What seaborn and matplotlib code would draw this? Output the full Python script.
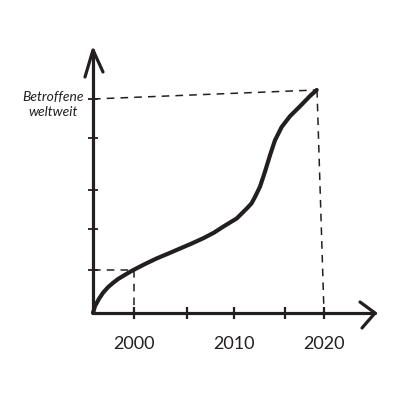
import matplotlib
matplotlib.use("Agg")
import matplotlib.pyplot as plt
import pandas as pd
import seaborn as sns

# curve (year, affected people in tick units)
years = [1995.9, 1996.1, 1996.5, 1996.9, 1997.4, 1997.9, 1998.4, 1998.9, 1999.4,
         1999.93, 2001.1, 2002.27, 2003.4, 2004.6, 2005.8, 2006.93, 2008.0,
         2008.93, 2010.27, 2011.27, 2011.75, 2012.1, 2012.6, 2013.1, 2013.6,
         2014.1, 2014.77, 2015.6, 2016.6, 2017.6, 2018.27]
affected = [0.0, 0.16, 0.33, 0.47, 0.60, 0.70, 0.79, 0.86, 0.93,
            1.0, 1.14, 1.27, 1.38, 1.50, 1.62, 1.74, 1.87,
            2.01, 2.20, 2.43, 2.55, 2.70, 2.94, 3.29, 3.67,
            4.02, 4.33, 4.58, 4.81, 5.05, 5.19]

# hand-drawn tick marks sit slightly off the round years
x_ticks = [2000, 2005.3, 2010, 2015.1, 2019.0]
x_tick_labels = ["2000", "", "2010", "", "2020"]
y_ticks = [1.0, 1.95, 2.86, 4.07, 4.98]
y_label = "Betroffene\nweltweit"

# guide lines: start level and end level
guide_low = {"year": 2000.0, "value": 1.0}
guide_high = {"year": 2018.3, "value": 5.19, "foot": 2019.0, "left": 4.98}

ink = "#231f20"

sns.set_style("white")
plt.rcParams["font.family"] = ["Lato", "DejaVu Sans"]

fig = plt.figure(figsize=(4, 4), dpi=100)
ax = fig.add_axes([93 / 400, 87 / 400, 282 / 400, 263 / 400])
x0, x1 = 1995.9, 2024.1
y0, y1 = 0.0, 6.12

df = pd.DataFrame({"year": years, "affected": affected})
sns.lineplot(data=df, x="year", y="affected", sort=False, estimator=None,
             color=ink, linewidth=3.0, ax=ax, zorder=5, clip_on=False,
             solid_joinstyle="round", solid_capstyle="round")

dash = dict(color=ink, linewidth=1.1, linestyle=(0, (5, 4)), clip_on=False)
ax.plot([x0, guide_low["year"]], [guide_low["value"]] * 2, **dash)
ax.plot([guide_low["year"]] * 2, [guide_low["value"], 0], **dash)
ax.plot([x0, guide_high["year"]], [guide_high["left"], guide_high["value"]], **dash)
ax.plot([guide_high["year"], guide_high["foot"]], [guide_high["value"], 0], **dash)

ax.set_xlim(x0, x1)
ax.set_ylim(y0, y1)
for side in ["top", "right"]:
    ax.spines[side].set_visible(False)
for side in ["left", "bottom"]:
    ax.spines[side].set_linewidth(2.3)
    ax.spines[side].set_color(ink)
    ax.spines[side].set_capstyle("round")

ax.set_xticks(x_ticks)
ax.set_xticklabels(x_tick_labels, fontsize=13, color=ink)
ax.set_yticks(y_ticks)
ax.set_yticklabels([])
ax.tick_params(axis="x", bottom=True, direction="inout", length=9, width=1.6,
               color=ink, labelcolor=ink, pad=12)
ax.tick_params(axis="y", left=True, direction="inout", length=7, width=1.3, color=ink)
ax.set_xlabel("")
ax.set_ylabel("")

# arrow heads at the axis ends
px_x = (x1 - x0) / 282
px_y = (y1 - y0) / 263
head = dict(color=ink, linewidth=2.3, solid_capstyle="round", clip_on=False)
ax.plot([x0 - 8 * px_x, x0, x0 + 10 * px_x], [y1 - 27 * px_y, y1, y1 - 22 * px_y], **head)
ax.plot([x1 - 15 * px_x, x1, x1 - 13 * px_x], [11 * px_y, 0, -15 * px_y], **head)

fig.text(53 / 400, 1 - 105 / 400, y_label, ha="center", va="center",
         fontsize=10, style="italic", color=ink, linespacing=1.3)

fig.savefig("out.png", dpi=100, facecolor="white")
